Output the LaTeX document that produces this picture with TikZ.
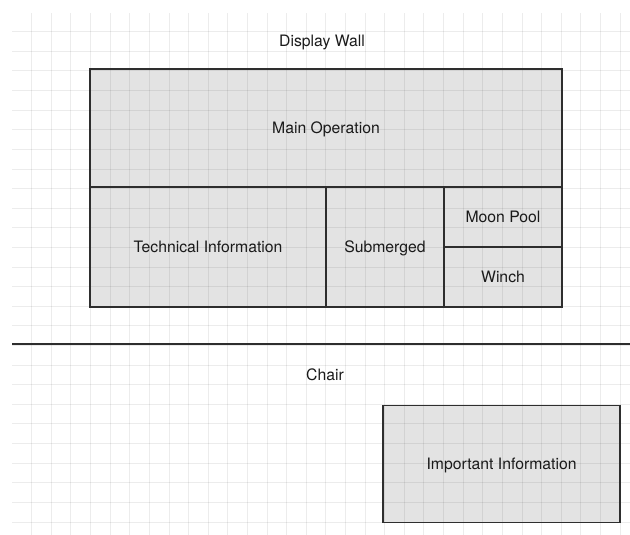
\documentclass[tikz,border=0pt]{standalone}
\usepackage{fontspec}
\setmainfont{TeX Gyre Heros}
\usetikzlibrary{backgrounds}
\definecolor{panelfill}{HTML}{E3E3E3}
\definecolor{panelline}{HTML}{2E2E2E}
\definecolor{inktext}{HTML}{1A1A1A}
\tikzset{
  label font/.style={font=\fontsize{15.8}{18}\selectfont, text height=11.2bp, text depth=0pt},
  cell/.style={draw=panelline, line width=1.1bp, inner sep=0pt, text=inktext, label font},
  caption/.style={inner sep=0pt, text=inktext, label font},
  gridline/.style={black, opacity=0.075, line width=0.9bp}
}
\begin{document}
\begin{tikzpicture}[x=1bp, y=-1bp]
  \useasboundingbox (0,0) rectangle (630,535);

  % display wall layout
  \node[caption] (wall) at (322,41) {Display Wall};
  \node[cell, minimum width=472bp, minimum height=118bp] (mainop) at (326,128) {Main Operation};
  \node[cell, minimum width=236bp, minimum height=120bp] (tech) at (208,247) {Technical Information};
  \node[cell, minimum width=118bp, minimum height=120bp] (sub) at (385,247) {Submerged};
  \node[cell, minimum width=118bp, minimum height=60bp] (moon) at (503,217) {Moon Pool};
  \node[cell, minimum width=118bp, minimum height=60bp] (winch) at (503,277) {Winch};

  % divider between wall and chair
  \coordinate (divl) at (12,344);
  \coordinate (divr) at (630,344);
  \draw[panelline, line width=1.3bp] (divl) -- (divr);

  % chair layout
  \node[caption] (chair) at (325,375) {Chair};
  \node[cell, minimum width=237bp, minimum height=116.3bp] (important) at (501.5,463.9) {Important Information};

  \begin{pgfonlayer}{background}
    \fill[panelfill] (mainop.north west) rectangle (winch.south east);
    \fill[panelfill] (important.north west) rectangle (important.south east);
    % background grid
    \foreach \k in {0,...,30}
      \draw[gridline] ({31.7+19.61*\k},13) -- ({31.7+19.61*\k},535);
    \foreach \k in {0,...,25}
      \draw[gridline] (12,{31.7+19.61*\k}) -- (630,{31.7+19.61*\k});
  \end{pgfonlayer}
\end{tikzpicture}
\end{document}
